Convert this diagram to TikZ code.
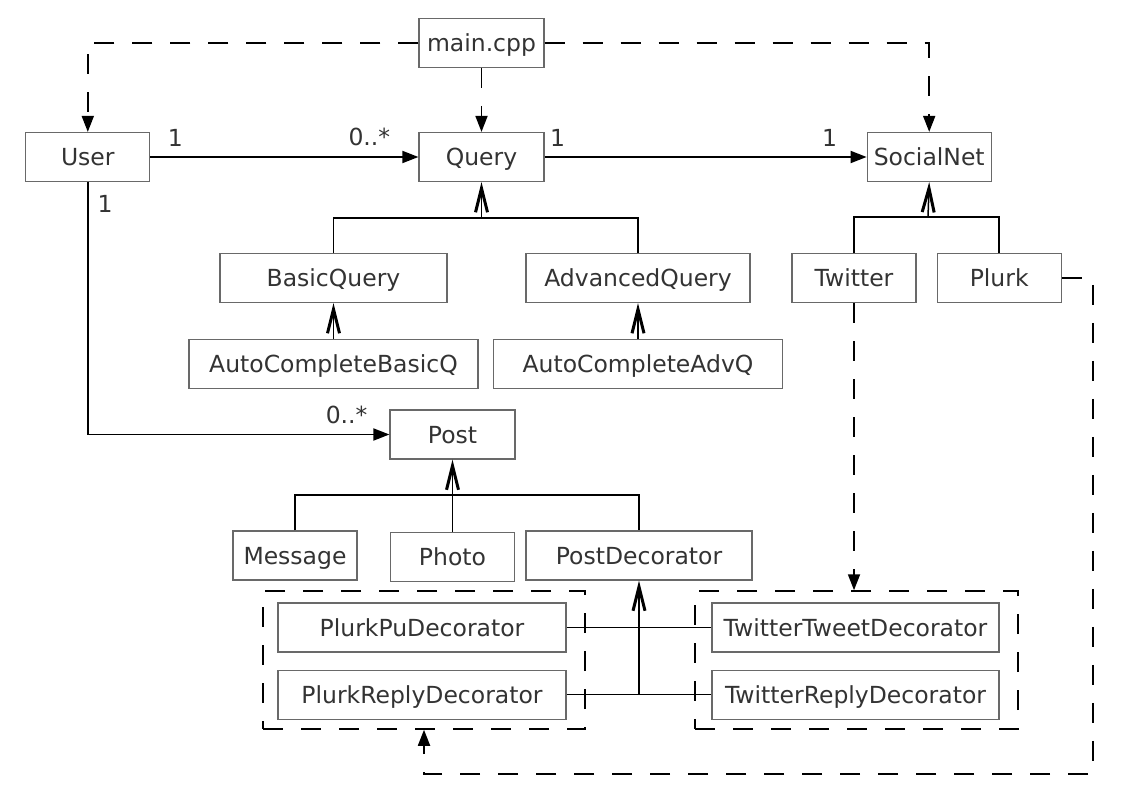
\documentclass[tikz,border=0pt]{standalone}
\usepackage{fontspec}
\setmainfont{DejaVu Sans}
\usetikzlibrary{arrows.meta,positioning}
\definecolor{boxgray}{RGB}{105,105,105}
\definecolor{txt}{RGB}{51,51,51}

\begin{document}
\begin{tikzpicture}[x=1pt,y=-1pt,>={Triangle[length=16pt,width=12pt]},
  font=\fontsize{23.5pt}{28pt}\selectfont,
  cls/.style={draw=boxgray,line width=1.2pt,minimum height=49pt,inner sep=0pt,
    text height=17pt,text depth=0pt,text=txt},
  grp/.style={draw,line width=1.5pt,dash pattern=on 20pt off 18pt,minimum height=138pt},
  dashline/.style={line width=1.8pt,dash pattern=on 20pt off 18pt,->},
  assoc/.style={line width=1.8pt,->},
  tree/.style={line width=1.5pt},
  inh/.style={-{Straight Barb[length=24pt,width=12pt,line width=3pt]}},
  lbl/.style={inner sep=0pt,text=txt}]

\useasboundingbox (0,0) rectangle (1123,794);

% top row
\node[cls,minimum width=125pt] (query) at (481.5,157) {Query};
\node[cls,minimum width=125pt,above=64pt of query] (main) {main.cpp};
\node[cls,minimum width=124pt,left=268pt of query] (user) {User};
\node[cls,minimum width=124pt,right=322pt of query] (socialnet) {SocialNet};

% subclasses
\node[cls,minimum width=227pt] (basicq) at (333.5,278) {BasicQuery};
\node[cls,minimum width=224pt] (advq) at (638,278) {AdvancedQuery};
\node[cls,minimum width=124pt] (twitter) at (854,278) {Twitter};
\node[cls,minimum width=124pt,right=20pt of twitter] (plurk) {Plurk};
\node[cls,minimum width=289pt,below=36pt of basicq] (acbasic) {AutoCompleteBasicQ};
\node[cls,minimum width=289pt,below=36pt of advq] (acadv) {AutoCompleteAdvQ};

% posts
\node[cls,minimum width=125pt] (post) at (452.5,434.5) {Post};
\node[cls,minimum width=124pt] (message) at (295,555.5) {Message};
\node[cls,minimum width=124pt,below=72pt of post] (photo) {Photo};
\node[cls,minimum width=226pt] (postdec) at (639,555.5) {PostDecorator};

% decorators
\node[cls,minimum width=288pt] (plurkpu) at (422,627.5) {PlurkPuDecorator};
\node[cls,minimum width=288pt,below=17pt of plurkpu] (plurkreply) {PlurkReplyDecorator};
\node[cls,minimum width=287pt] (twtweet) at (855.5,627.5) {TwitterTweetDecorator};
\node[cls,minimum width=287pt,below=17pt of twtweet] (twreply) {TwitterReplyDecorator};
\node[grp,minimum width=322pt] (plurkgrp) at (424,660) {};
\node[grp,minimum width=323pt] (twgrp) at (856.5,660) {};

% main.cpp uses
\draw[dashline] (main.west) -| (user.north);
\draw[dashline] (main.east) -| (socialnet.north);
\draw[dashline] (main) -- (query);

% associations
\path (user) edge[assoc] node[lbl,pos=.093,above=10pt]{1} node[lbl,pos=.817,above=10pt]{0..*} (query);
\path (query) edge[assoc] node[lbl,pos=.04,above=10pt]{1} node[lbl,pos=.885,above=10pt]{1} (socialnet);
\draw[assoc] (user.south) |- node[lbl,pos=.044,right=9pt]{1} node[lbl,pos=.929,above=10pt]{0..*} (post.west);

% inheritance
\coordinate (qjoin) at (481.5,218);
\draw[tree] (basicq.north) |- (qjoin) -| (advq.north);
\draw[tree,inh] (qjoin) -- (query.south);
\coordinate (sjoin) at (928,217);
\draw[tree] (twitter.north) |- (sjoin) -| (plurk.north);
\draw[tree,inh] (sjoin) -- (socialnet.south);
\draw[tree,inh] (acbasic) -- (basicq);
\draw[tree,inh] (acadv.north -| advq.south) -- (advq.south);
\coordinate (pjoin) at (452.5,495);
\draw[tree] (message.north) |- (pjoin) -| (postdec.north);
\draw[tree,inh] (photo) -- (post);
\draw[tree] (plurkpu.east) -- (twtweet.west);
\draw[tree] (plurkreply.east) -- (twreply.west);
\draw[tree,inh] (postdec.south |- plurkreply.east) -- (postdec.south);

% decorator groups
\draw[dashline] (twitter) -- (twitter |- twgrp.north);
\coordinate (pturn) at (1093,774);
\draw[dashline] (plurk.east) -| (pturn) -| (plurkgrp.south);
\end{tikzpicture}
\end{document}
